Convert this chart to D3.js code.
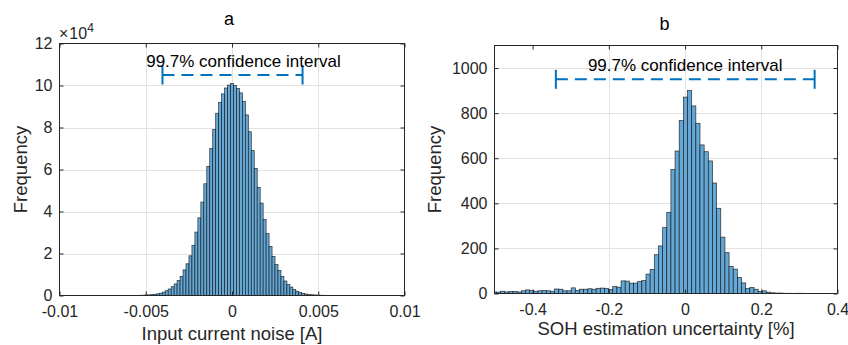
<!DOCTYPE html>
<html><head><meta charset="utf-8">
<script src="https://cdn.jsdelivr.net/npm/d3@7"></script>
<style>
html,body{margin:0;padding:0;background:#fff;}
svg text{font-family:"Liberation Sans",Arial,Helvetica,sans-serif;}
</style></head><body>
<svg id="chart" width="848" height="345"></svg>
<script>
// ---------- Panel a data ----------
const aTitle = "a";
const aXLabel = "Input current noise [A]";
const aYLabel = "Frequency";
const aBinStart = -0.006966;
const aBinWidth = 0.000172;
const aCounts = [3,5,8,12,18,25,35,50,70,100,140,200,280,400,560,800,1100,1600,2300,3100,4200,5500,7100,9100,12200,15100,18900,23900,30200,37000,44500,53200,61500,70000,79000,86800,92000,96000,98800,100200,
  101000,
  100000,98600,96500,92500,86000,78000,69000,60500,51500,44000,36200,29500,23400,18600,14700,12000,9000,6900,5200,4000,2800,2000,1400,1000,700,500,350,250,180,130,90,65,45,30,22,15,10,7,5,3];
const aXDomain = [-0.01, 0.01];
const aYDomain = [0, 120000];
const aXTicks = [-0.01, -0.005, 0, 0.005, 0.01];
const aXTickLabels = ["-0.01", "-0.005", "0", "0.005", "0.01"];
const aYTicks = [0, 20000, 40000, 60000, 80000, 100000, 120000];
const aYTickLabels = ["0", "2", "4", "6", "8", "10", "12"];
const aCI = [-0.00403, 0.00409];
const aCIy = 105000;
const aCIText = "99.7% confidence interval";

// ---------- Panel b data ----------
const bTitle = "b";
const bXLabel = "SOH estimation uncertainty [%]";
const bYLabel = "Frequency";
const bBinStart = -0.5058;
const bBinWidth = 0.0109;
const bCounts = [7,6,10,7,9,9,7,12,16,14,10,12,14,12,10,20,19,12,12,25,14,19,19,21,19,23,24,23,18,31,28,56,55,46,46,54,57,86,107,172,211,292,360,550,632,767,871,
  900,
  832,755,659,629,588,490,378,250,181,120,108,71,47,22,27,19,9,12,6,3,2,2,1,1,0,1,1,0];
const bXDomain = [-0.5, 0.4];
const bYDomain = [0, 1100];
const bXTicks = [-0.4, -0.2, 0, 0.2, 0.4];
const bXTickLabels = ["-0.4", "-0.2", "0", "0.2", "0.4"];
const bYTicks = [0, 200, 400, 600, 800, 1000];
const bYTickLabels = ["0", "200", "400", "600", "800", "1000"];
const bCI = [-0.339, 0.340];
const bCIy = 950;
const bCIText = "99.7% confidence interval";

// ---------- Drawing ----------
const svg = d3.select("#chart");
const AX = "#262626";
const GRID = "#e3e3e3";
const FACE = "rgb(100,168,215)";
const EDGE = "#111";
const BLUE = "#0072BD";

function panel(cfg) {
  const {L, R, T, B} = cfg;
  const x = d3.scaleLinear().domain(cfg.xDomain).range([L, R]);
  const y = d3.scaleLinear().domain(cfg.yDomain).range([B, T]);
  const g = svg.append("g");
  const clipId = "clip" + cfg.id;
  svg.append("clipPath").attr("id", clipId)
    .append("rect").attr("x", L).attr("y", T).attr("width", R - L).attr("height", B - T);

  // grid
  const grid = g.append("g");
  cfg.xTicks.slice(1, -1).forEach(v => {
    grid.append("line").attr("x1", Math.round(x(v)) + 0.5).attr("x2", Math.round(x(v)) + 0.5)
      .attr("y1", T).attr("y2", B).attr("stroke", GRID).attr("stroke-width", 1);
  });
  cfg.yTicks.slice(1).forEach(v => {
    if (y(v) <= T + 1) return;
    grid.append("line").attr("y1", Math.round(y(v)) + 0.5).attr("y2", Math.round(y(v)) + 0.5)
      .attr("x1", L).attr("x2", R).attr("stroke", GRID).attr("stroke-width", 1);
  });

  // bars
  const bins = cfg.counts.map((c, i) => ({x0: cfg.binStart + i * cfg.binWidth, x1: cfg.binStart + (i + 1) * cfg.binWidth, c}));
  g.append("g").attr("clip-path", `url(#${clipId})`)
    .selectAll("rect").data(bins).join("rect")
    .attr("x", d => x(d.x0)).attr("width", d => x(d.x1) - x(d.x0))
    .attr("y", d => y(d.c)).attr("height", d => y(0) - y(d.c))
    .attr("fill", FACE).attr("stroke", EDGE).attr("stroke-width", 0.7).attr("stroke-opacity", 0.85);

  // axes
  const fmtX = (d, i) => cfg.xTickLabels[i];
  const fmtY = (d, i) => cfg.yTickLabels[i];
  const axB = g.append("g").attr("transform", `translate(0,${B})`)
    .call(d3.axisBottom(x).tickValues(cfg.xTicks).tickFormat(fmtX).tickSize(-4).tickPadding(10));
  const axT = g.append("g").attr("transform", `translate(0,${T})`)
    .call(d3.axisTop(x).tickValues(cfg.xTicks).tickFormat("").tickSize(-4));
  const axL = g.append("g").attr("transform", `translate(${L},0)`)
    .call(d3.axisLeft(y).tickValues(cfg.yTicks).tickFormat(fmtY).tickSize(-4).tickPadding(7));
  const axR = g.append("g").attr("transform", `translate(${R},0)`)
    .call(d3.axisRight(y).tickValues(cfg.yTicks).tickFormat("").tickSize(-4));
  [axB, axT, axL, axR].forEach(a => {
    a.select(".domain").remove();
    a.selectAll("line").attr("stroke", AX);
    a.selectAll("text").attr("fill", AX).style("font-size", "16px");
  });
  g.append("rect").attr("x", L).attr("y", T).attr("width", R - L).attr("height", B - T)
    .attr("fill", "none").attr("stroke", AX).attr("stroke-width", 1);

  // CI bar
  const cy = y(cfg.ciY);
  g.append("line").attr("x1", x(cfg.ci[0])).attr("x2", x(cfg.ci[1])).attr("y1", cy).attr("y2", cy)
    .attr("stroke", BLUE).attr("stroke-width", 2).attr("stroke-dasharray", "12,7");
  cfg.ci.forEach(v => {
    g.append("line").attr("x1", x(v)).attr("x2", x(v)).attr("y1", cy - 9.5).attr("y2", cy + 9.5)
      .attr("stroke", BLUE).attr("stroke-width", 2);
  });
  g.append("text").attr("x", (x(cfg.ci[0]) + x(cfg.ci[1])) / 2 + cfg.ciTextDx).attr("y", cy - 8.5)
    .attr("text-anchor", "middle").style("font-size", "17px").attr("fill", "#000").text(cfg.ciText);

  // labels
  g.append("text").attr("x", (L + R) / 2 + cfg.titleDx).attr("y", cfg.titleY).attr("text-anchor", "middle")
    .style("font-size", "18px").attr("fill", "#000").text(cfg.title);
  g.append("text").attr("x", (L + R) / 2).attr("y", cfg.xLabelY).attr("text-anchor", "middle")
    .style("font-size", "18.5px").attr("fill", AX).text(cfg.xLabel);
  g.append("text").attr("transform", `translate(${cfg.yLabelX},${(T + B) / 2}) rotate(-90)`)
    .attr("text-anchor", "middle").style("font-size", "18.5px").attr("fill", AX).text(cfg.yLabel);
  return {x, y, g};
}

const pa = panel({id: "a", L: 59.5, R: 404.5, T: 43.5, B: 295.5,
  xDomain: aXDomain, yDomain: aYDomain, xTicks: aXTicks, xTickLabels: aXTickLabels,
  yTicks: aYTicks, yTickLabels: aYTickLabels, counts: aCounts, binStart: aBinStart, binWidth: aBinWidth,
  ci: aCI, ciY: aCIy, ciText: aCIText, ciTextDx: 11, title: aTitle, titleDx: -3, titleY: 25,
  xLabel: aXLabel, xLabelY: 340, yLabel: aYLabel, yLabelX: 27});

// exponent label
const ex = pa.g.append("text").attr("x", 59).attr("y", 39).attr("fill", AX).style("font-size", "16px");
ex.append("tspan").text("\u00D7");
ex.append("tspan").attr("dx", 1).text("10");
ex.append("tspan").attr("dy", -7).style("font-size", "12px").text("4");

panel({id: "b", L: 494.5, R: 837.5, T: 45.5, B: 293.5,
  xDomain: bXDomain, yDomain: bYDomain, xTicks: bXTicks, xTickLabels: bXTickLabels,
  yTicks: bYTicks, yTickLabels: bYTickLabels, counts: bCounts, binStart: bBinStart, binWidth: bBinWidth,
  ci: bCI, ciY: bCIy, ciText: bCIText, ciTextDx: 0, title: bTitle, titleDx: -1.5, titleY: 30,
  xLabel: bXLabel, xLabelY: 335, yLabel: bYLabel, yLabelX: 441});
</script>
</body></html>
